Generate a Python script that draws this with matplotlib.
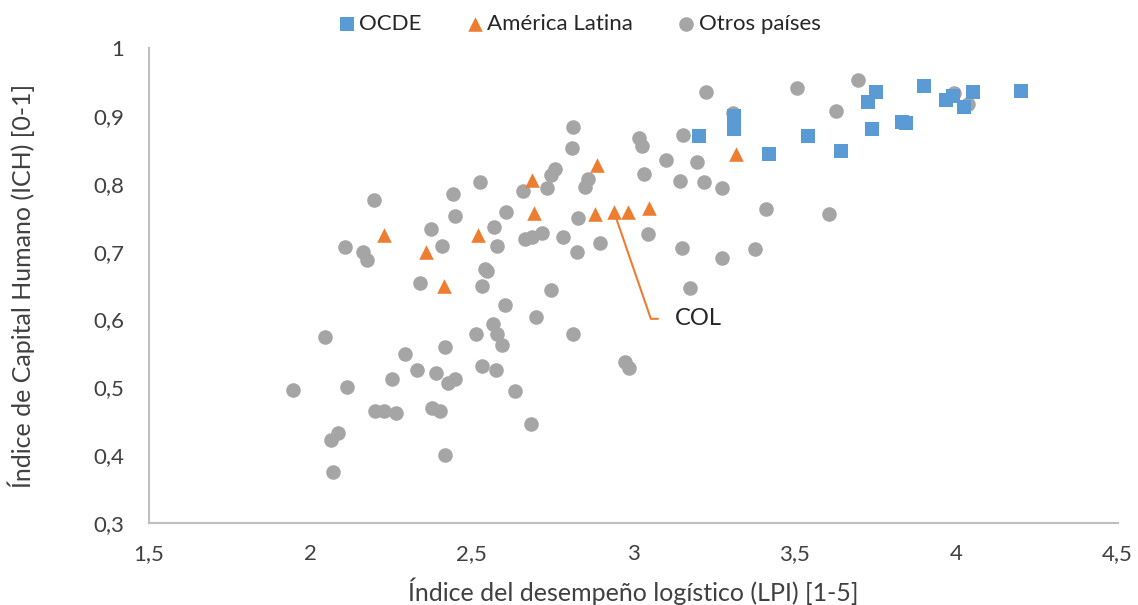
import matplotlib
matplotlib.use("Agg")
import matplotlib.pyplot as plt

# OCDE
ocde_x = [3.203, 3.311, 3.311, 3.420, 3.540, 3.642, 3.726, 3.751, 3.738, 3.831,
          3.844, 3.899, 3.968, 3.989, 4.051, 4.023, 4.200]
ocde_y = [0.871, 0.900, 0.881, 0.844, 0.871, 0.849, 0.921, 0.935, 0.881, 0.891,
          0.890, 0.944, 0.924, 0.929, 0.935, 0.913, 0.937]

# América Latina
latam_x = [2.228, 2.358, 2.413, 2.519, 2.686, 2.692, 2.887, 2.881, 2.940, 2.983,
           3.048, 3.317]
latam_y = [0.724, 0.700, 0.649, 0.724, 0.806, 0.757, 0.828, 0.756, 0.759, 0.759,
           0.765, 0.844]
col_x, col_y = 2.940, 0.759

# Otros países
otros_x = [2.197, 2.441, 2.525, 2.658, 2.732, 2.745, 2.757, 2.859, 2.850, 2.447,
           2.605, 2.373, 2.568, 2.828, 2.107, 2.163, 2.175, 2.407, 2.577, 2.664,
           2.686, 2.717, 2.782, 2.825, 2.896, 2.540, 2.546, 2.339, 2.531, 2.745,
           2.602, 2.698, 2.565, 2.577, 2.813, 2.045, 2.512, 2.416, 2.593, 2.293,
           2.531, 2.574, 2.330, 2.389, 2.252, 2.426, 2.447, 1.946, 2.113, 2.633,
           2.200, 2.228, 2.265, 2.376, 2.401, 2.683, 2.085, 2.063, 2.416, 2.070,
           3.224, 3.506, 3.695, 3.627, 3.308, 2.813, 3.017, 3.026, 2.810, 3.153,
           3.101, 3.197, 3.033, 3.144, 3.218, 3.274, 3.410, 3.605, 3.045, 3.150,
           3.274, 3.376, 3.175, 2.974, 2.986, 3.995, 4.036]
otros_y = [0.776, 0.785, 0.803, 0.790, 0.794, 0.813, 0.822, 0.807, 0.796, 0.753,
           0.759, 0.734, 0.737, 0.749, 0.707, 0.700, 0.688, 0.709, 0.709, 0.718,
           0.721, 0.728, 0.722, 0.699, 0.712, 0.675, 0.672, 0.654, 0.650, 0.644,
           0.622, 0.603, 0.594, 0.579, 0.578, 0.574, 0.578, 0.559, 0.562, 0.549,
           0.532, 0.526, 0.526, 0.521, 0.513, 0.506, 0.512, 0.496, 0.501, 0.494,
           0.465, 0.465, 0.462, 0.469, 0.465, 0.446, 0.432, 0.422, 0.400, 0.375,
           0.935, 0.941, 0.953, 0.907, 0.904, 0.884, 0.868, 0.856, 0.853, 0.872,
           0.835, 0.832, 0.815, 0.804, 0.803, 0.794, 0.763, 0.756, 0.726, 0.706,
           0.691, 0.704, 0.646, 0.537, 0.528, 0.934, 0.918]

x_ticks = [1.5, 2, 2.5, 3, 3.5, 4, 4.5]
y_ticks = [0.3, 0.4, 0.5, 0.6, 0.7, 0.8, 0.9, 1.0]

blue = '#5B9BD5'
orange = '#ED7D31'
gray = '#A5A5A5'
text_col = '#404040'

plt.rcParams['font.family'] = ['Lato', 'DejaVu Sans']

fig = plt.figure(figsize=(11.38, 6.05), dpi=100)
ax = fig.add_axes([0.131, 0.1355, 0.851, 0.785])

ax.scatter(ocde_x, ocde_y, marker='s', s=100, color=blue, linewidths=0,
           label='OCDE', zorder=3)
ax.scatter(latam_x, latam_y, marker='^', s=110, color=orange, linewidths=0,
           label='América Latina', zorder=3)
ax.scatter(otros_x, otros_y, marker='o', s=110, color=gray, linewidths=0,
           label='Otros países', zorder=2)

ax.annotate('COL', xy=(col_x, col_y), xytext=(3.128, 0.601),
            ha='left', va='center', fontsize=17, color='#262626',
            arrowprops=dict(arrowstyle='-', color=orange, lw=1.5,
                            shrinkA=10, shrinkB=4, relpos=(0, 0.5),
                            connectionstyle='angle,angleA=0,angleB=-71,rad=0'))

ax.set_xlim(1.5, 4.5)
ax.set_ylim(0.3, 1.0)
ax.set_xticks(x_ticks)
ax.set_yticks(y_ticks)
ax.set_xticklabels([f"{t:g}".replace('.', ',') for t in x_ticks])
ax.set_yticklabels([f"{t:g}".replace('.', ',') for t in y_ticks])
ax.tick_params(axis='both', length=0, labelsize=16, labelcolor=text_col)
ax.tick_params(axis='x', pad=15)
ax.tick_params(axis='y', pad=18)

for side in ['top', 'right']:
    ax.spines[side].set_visible(False)
for side in ['left', 'bottom']:
    ax.spines[side].set_color('#BFBFBF')
    ax.spines[side].set_linewidth(1.5)

ax.set_xlabel('Índice del desempeño logístico (LPI) [1-5]', fontsize=18,
              color=text_col, labelpad=10)
ax.set_ylabel('Índice de Capital Humano (ICH) [0-1]', fontsize=18,
              color=text_col, labelpad=42)

fig.legend(loc='upper center', bbox_to_anchor=(0.508, 1.01), ncol=3,
           frameon=False, fontsize=16, handletextpad=0.05, columnspacing=1.9,
           labelcolor='#262626', handlelength=1.0, markerscale=1.0)

fig.savefig('out.png', dpi=100)
